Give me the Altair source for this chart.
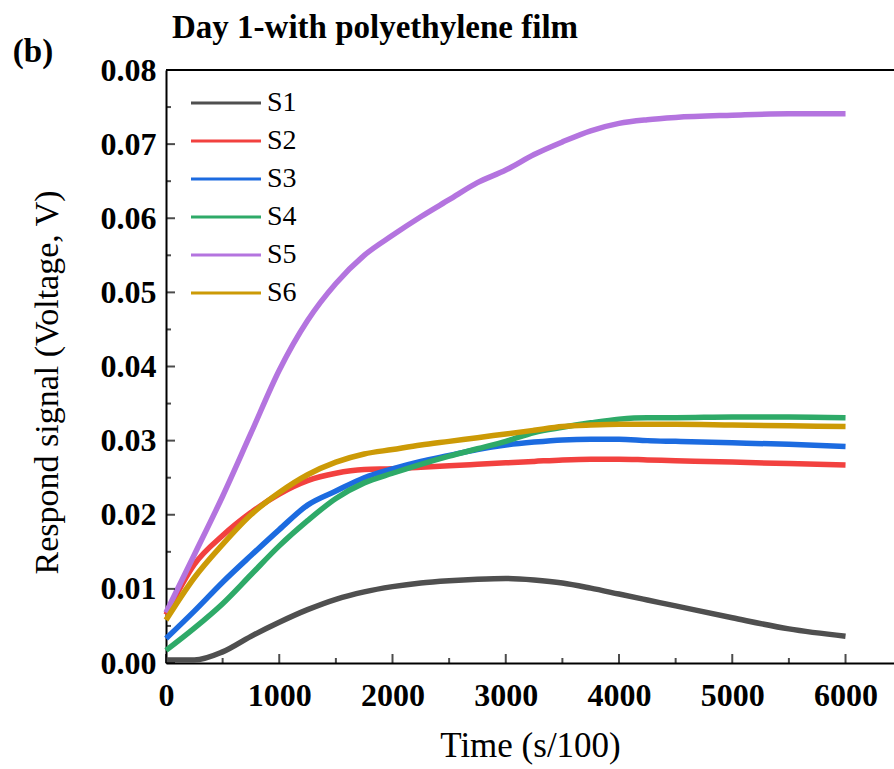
import altair as alt
import pandas as pd

# ---- data ----
time = [0, 250, 500, 750, 1000, 1250, 1500, 1750, 2000, 2250, 2500, 2750,
        3000, 3250, 3500, 3750, 4000, 4250, 4500, 5000, 5500, 6000]

s1 = [0.0004, 0.0004, 0.0015, 0.0036, 0.0055, 0.0072, 0.0086, 0.0096, 0.0103, 0.0108, 0.0111, 0.0113,
      0.0114, 0.0112, 0.0108, 0.0101, 0.0093, 0.0085, 0.0077, 0.0061, 0.0046, 0.0036]
s2 = [0.0065, 0.0133, 0.0172, 0.0203, 0.0228, 0.0246, 0.0256, 0.0261, 0.0262, 0.0264, 0.0266, 0.0268,
      0.0270, 0.0272, 0.0274, 0.0275, 0.0275, 0.0274, 0.0273, 0.0271, 0.0269, 0.0267]
s3 = [0.0033, 0.0070, 0.0109, 0.0145, 0.0180, 0.0213, 0.0232, 0.0250, 0.0262, 0.0272, 0.0280, 0.0288,
      0.0294, 0.0298, 0.0301, 0.0302, 0.0302, 0.0300, 0.0299, 0.0297, 0.0295, 0.0292]
s4 = [0.0017, 0.0047, 0.0080, 0.0119, 0.0158, 0.0192, 0.0222, 0.0243, 0.0256, 0.0268, 0.0279, 0.0289,
      0.0299, 0.0311, 0.0318, 0.0324, 0.0329, 0.0331, 0.0331, 0.0332, 0.0332, 0.0331]
s5 = [0.0068, 0.0146, 0.0225, 0.0310, 0.0395, 0.0462, 0.0512, 0.0550, 0.0577, 0.0602, 0.0625, 0.0648,
      0.0665, 0.0686, 0.0703, 0.0718, 0.0728, 0.0733, 0.0736, 0.0739, 0.0741, 0.0741]
s6 = [0.0058, 0.0115, 0.0160, 0.0200, 0.0230, 0.0254, 0.0271, 0.0282, 0.0288, 0.0294, 0.0299, 0.0304,
      0.0309, 0.0314, 0.0319, 0.0321, 0.0322, 0.0322, 0.0322, 0.0321, 0.0320, 0.0319]

names = ["S1", "S2", "S3", "S4", "S5", "S6"]
colors = ["#4f4f4f", "#f2413f", "#1c6be0", "#2eaa68", "#b474df", "#cc9a06"]

x_major = [0, 1000, 2000, 3000, 4000, 5000, 6000]
x_minor = [500, 1500, 2500, 3500, 4500, 5500]
y_major = [0.0, 0.01, 0.02, 0.03, 0.04, 0.05, 0.06, 0.07, 0.08]
y_minor = [0.005, 0.015, 0.025, 0.035, 0.045, 0.055, 0.065, 0.075]
y_top = [0.08]

rows = []
for name, vals in zip(names, [s1, s2, s3, s4, s5, s6]):
    for t, v in zip(time, vals):
        rows.append({"time": t, "signal": v, "series": name})
df = pd.DataFrame(rows)

FONT = "Liberation Serif"
xscale = alt.Scale(domain=[0, 6428], nice=False, zero=False)
yscale = alt.Scale(domain=[0, 0.08], nice=False)

xaxis = alt.Axis(
    orient="bottom",
    values=x_major, format="d", tickSize=0, labelFont=FONT, labelFontSize=32,
    labelFontWeight="bold", labelColor="black", labelPadding=17, labelFlush=False,
    domainColor="black", domainWidth=2, grid=False,
    title="Time (s/100)", titleFont=FONT, titleFontSize=35, titleFontWeight="normal",
    titleColor="black", titlePadding=17)
yaxis = alt.Axis(
    orient="left",
    values=y_major, format=".2f", tickSize=0, labelFont=FONT, labelFontSize=32,
    labelFontWeight="bold", labelColor="black", labelPadding=10, labelFlush=False,
    domainColor="black", domainWidth=2, grid=False,
    title="Respond signal (Voltage, V)", titleFont=FONT, titleFontSize=34,
    titleFontWeight="normal", titleColor="black", titlePadding=36, titleY=312)

color = alt.Color(
    "series:N",
    scale=alt.Scale(domain=names, range=colors),
    legend=alt.Legend(
        title=None, orient="none", legendX=46, legendY=19,
        symbolType="M-7,0H7", symbolSize=100, symbolStrokeWidth=3,
        labelFont=FONT, labelFontSize=28, labelColor="black", labelOffset=27,
        rowPadding=10, padding=0,
    ),
)

lines = alt.Chart(df).mark_line(strokeWidth=5.5, interpolate="monotone").encode(
    x=alt.X("time:Q", scale=xscale, axis=xaxis),
    y=alt.Y("signal:Q", scale=yscale, axis=yaxis),
    color=color,
)

# inward tick marks, positioned through the scales
def xticks(vals, size):
    return alt.Chart(pd.DataFrame({"v": vals})).mark_tick(
        orient="vertical", size=size, thickness=2, color="black", yOffset=-size / 2
    ).encode(x=alt.X("v:Q", scale=xscale, axis=xaxis),
             y=alt.Y(datum=0, scale=yscale, axis=yaxis))

def yticks(vals, size):
    return alt.Chart(pd.DataFrame({"v": vals})).mark_tick(
        orient="horizontal", size=size, thickness=2, color="black", xOffset=size / 2
    ).encode(y=alt.Y("v:Q", scale=yscale, axis=yaxis),
             x=alt.X(datum=0, scale=xscale, axis=xaxis))

top = alt.Chart(pd.DataFrame({"v": y_top})).mark_rule(color="black", strokeWidth=2).encode(
    y=alt.Y("v:Q", scale=yscale, axis=yaxis)
)

panel_label = ["(b)"]
tag = alt.Chart(pd.DataFrame({"t": panel_label})).mark_text(
    font=FONT, fontSize=33, fontWeight="bold", color="black", align="center", baseline="middle"
).encode(x=alt.value(-133), y=alt.value(-18), text="t:N")

chart = alt.layer(
    lines, top, xticks(x_major, 9), xticks(x_minor, 5), yticks(y_major, 9), yticks(y_minor, 5), tag
).properties(
    width=728, height=593,
    title=alt.TitleParams("Day 1-with polyethylene film", anchor="start", frame="group",
                          font=FONT, fontSize=33, fontWeight="bold", color="black",
                          offset=-9, dx=6),
    padding={"left": 166, "top": 70, "right": 0, "bottom": 106},
    autosize=alt.AutoSizeParams(type="none"),
).configure_view(stroke=None).configure(background="white")

chart.save("out.html", embed_options={"renderer": "svg", "actions": False})
